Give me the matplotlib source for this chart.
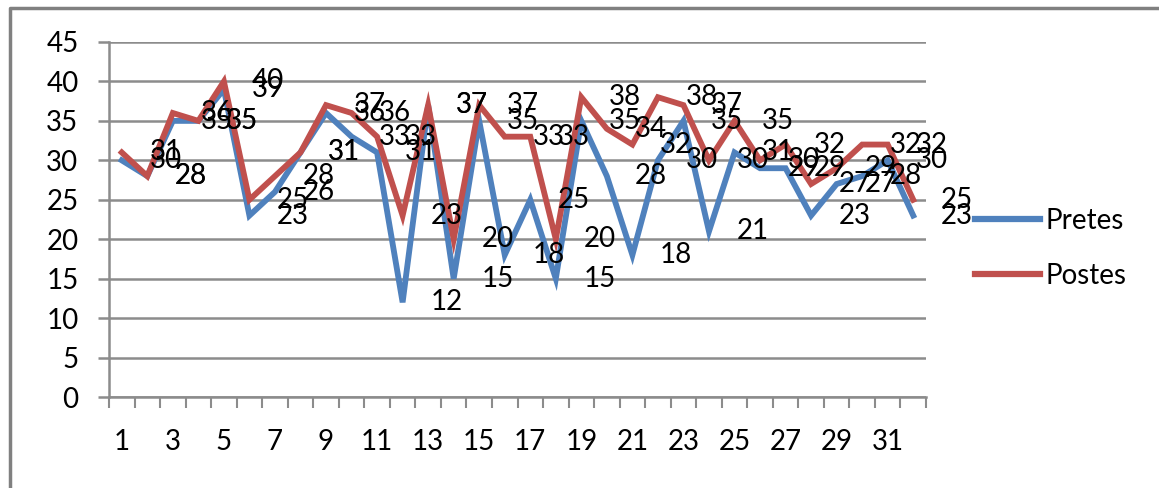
import numpy as np
import matplotlib
matplotlib.use("Agg")
import matplotlib.pyplot as plt
from matplotlib.lines import Line2D

plt.rcParams['font.family'] = ['Lato', 'DejaVu Sans']

# data
categories = [str(i) for i in range(1, 33)]
pretes = [30, 28, 35, 35, 39, 23, 26, 31, 36, 33, 31, 12, 37, 15, 35, 18,
          25, 15, 35, 28, 18, 30, 35, 21, 31, 29, 29, 23, 27, 28, 30, 23]
postes = [31, 28, 36, 35, 40, 25, 28, 31, 37, 36, 33, 23, 37, 20, 37, 33,
          33, 20, 38, 34, 32, 38, 37, 30, 35, 30, 32, 27, 29, 32, 32, 25]
series_names = ["Pretes", "Postes"]

BLUE = '#4F81BD'
RED = '#C0504D'
GRID = '#8C8C8C'
FS = 20

W, H = 1159, 488
fig = plt.figure(figsize=(W / 100, H / 100), dpi=100)
ax = fig.add_axes([109 / W, 1 - 397 / H, (926 - 109) / W, (397 - 42) / H])

x = np.arange(len(categories))
ax.plot(x, pretes, color=BLUE, lw=4.2, solid_joinstyle='miter', zorder=3)
ax.plot(x, postes, color=RED, lw=4.2, solid_joinstyle='miter', zorder=4)

for vals in (pretes, postes):
    for xi, v in zip(x, vals):
        ax.annotate(str(v), (xi, v), xytext=(20, 0), textcoords='offset points',
                    ha='left', va='center', fontsize=FS, color='black',
                    zorder=5, annotation_clip=False)

ax.set_xlim(-0.5, len(categories) - 0.5)
ax.set_ylim(0, 45)
ax.set_yticks(np.arange(0, 46, 5))
ax.yaxis.grid(True, color=GRID, lw=1.8)
ax.set_axisbelow(True)

ax.set_xticks(x)
ax.set_xticklabels([c if i % 2 == 0 else '' for i, c in enumerate(categories)])
ax.set_xticks(np.arange(-0.5, len(categories)), minor=True)
ax.tick_params(axis='x', which='major', length=0, pad=23, labelsize=FS)
ax.tick_params(axis='x', which='minor', length=8, width=1.5, color=GRID, direction='out')
ax.tick_params(axis='y', length=8, width=1.8, color=GRID, pad=14, labelsize=FS)

for s in ('top', 'right'):
    ax.spines[s].set_visible(False)
for s in ('left', 'bottom'):
    ax.spines[s].set_color(GRID)
    ax.spines[s].set_linewidth(1.8)

# legend drawn at the right like the original
handles = [Line2D([], [], color=BLUE, lw=4.5), Line2D([], [], color=RED, lw=4.5)]
fig.legend(handles, series_names, loc='upper left', bbox_to_anchor=(975 / W, 1 - 208 / H),
           frameon=False, fontsize=FS, handlelength=2.35, handletextpad=0.2,
           labelspacing=1.05, borderpad=0, borderaxespad=0)

# outer chart frame (cut at right and bottom)
fig.add_artist(Line2D([10 / W, 10 / W, 1.0], [0.0, 1 - 8 / H, 1 - 8 / H],
                      transform=fig.transFigure, color='#808080', lw=2.5))

fig.savefig('out.png', dpi=100, facecolor='white')
